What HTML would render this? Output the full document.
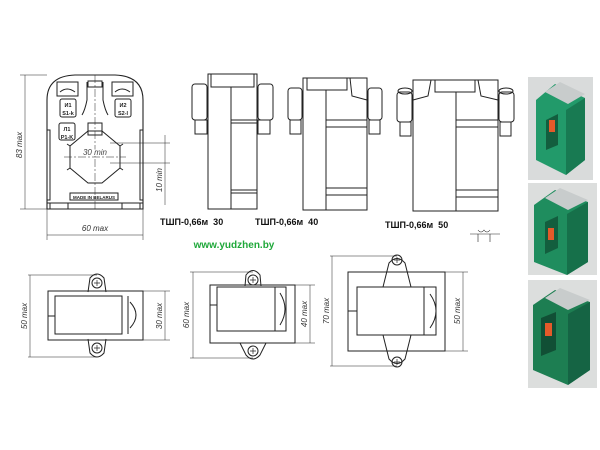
<!DOCTYPE html>
<html><head><meta charset="utf-8"><style>
html,body{margin:0;padding:0;background:#fff;width:600px;height:450px;overflow:hidden}
svg{display:block}
text{font-family:"Liberation Sans",sans-serif}
</style></head><body>
<svg width="600" height="450" viewBox="0 0 600 450" xmlns="http://www.w3.org/2000/svg">
<g fill="none" stroke="#222" stroke-width="1">
<!-- FRONT VIEW -->
<path d="M47 209 L47 100 Q47 76 75 75 L115 75 Q143 76 143 100 L143 209 Z" stroke-width="1.1"/>
<rect x="57" y="82" width="21" height="14"/><path d="M60 92 Q67 86 75 92"/>
<rect x="112" y="82" width="21" height="14"/><path d="M115 92 Q122 86 130 92"/>
<path d="M87 82 L87 100 Q85 110 82 115 M103 82 L103 100 Q105 110 108 115"/><rect x="88" y="81" width="14" height="6"/>
<rect x="60" y="99" width="16" height="18" rx="2"/>
<rect x="115" y="99" width="16" height="18" rx="2"/>
<rect x="59" y="123" width="16" height="17" rx="2"/>
<rect x="88" y="123" width="14" height="12"/>
<path d="M88 131 L102 131 L120 146 L120 168 L102 183 L88 183 L70 168 L70 146 Z"/>
<path d="M70 146 L67 144 M120 146 L123 144 M70 168 L67 170 M120 168 L123 170" />
<line x1="95" y1="75" x2="95" y2="209" stroke-dasharray="8 2 2 2" stroke-width="0.5"/>
<line x1="64" y1="157" x2="126" y2="157" stroke-dasharray="8 2 2 2" stroke-width="0.5"/>
<rect x="70" y="193" width="48" height="7"/>
<line x1="47" y1="203" x2="143" y2="203"/>
<rect x="50" y="203" width="18" height="6"/><rect x="122" y="203" width="18" height="6"/>
<path d="M47 130 L50 130 L50 200 L47 200 M143 130 L140 130 L140 200 L143 200"/>
<!-- dims -->
<path d="M20 75 L47 75 M20 209 L47 209 M25 75 L25 209" stroke-width="0.5"/>
<path d="M47 209 L47 240 M143 209 L143 240 M47 235 L143 235" stroke-width="0.5"/>
<path d="M110 143 L170 143 M110 163 L170 163 M165 135 L165 205" stroke-width="0.5"/>
</g>
<g font-size="8" font-style="italic" fill="#333">
<text transform="translate(22,145) rotate(-90)" text-anchor="middle">83 max</text>
<text x="95" y="231" text-anchor="middle">60 max</text>
<text x="95" y="155" text-anchor="middle" fill="#444" stroke="#fff" stroke-width="2" paint-order="stroke">30 min</text>
<text transform="translate(162,180) rotate(-90)" text-anchor="middle">10 min</text>
</g>
<g font-size="5.5" font-weight="bold" fill="#222" text-anchor="middle">
<text x="68" y="107">И1</text><text x="68" y="115">S1-k</text>
<text x="123" y="107">И2</text><text x="123" y="115">S2-l</text>
<text x="67" y="131">Л1</text><text x="67" y="139">P1-K</text>
<text x="94" y="199" font-size="4.5">MADE IN BELARUS</text>
</g>

<!-- SIDE VIEWS -->
<g fill="none" stroke="#222" stroke-width="1">
<rect x="208" y="74" width="49" height="135"/>
<rect x="211" y="74" width="43" height="13"/>
<line x1="231" y1="87" x2="231" y2="209"/>
<path d="M231 120 L257 120 M231 123 L257 123 M231 190 L257 190 M231 193 L257 193"/>
<rect x="192" y="84" width="15" height="36" rx="3"/><rect x="195" y="120" width="12" height="14"/>
<rect x="258" y="84" width="15" height="36" rx="3"/><rect x="258" y="120" width="12" height="14"/>
<rect x="303" y="78" width="64" height="132"/>
<rect x="307" y="78" width="40" height="12"/>
<line x1="326" y1="90" x2="326" y2="210"/>
<path d="M326 120 L367 120 M326 127 L367 127 M326 188 L367 188 M326 195 L367 195"/>
<path d="M350 78 L352 96 L367 100"/>
<rect x="288" y="88" width="14" height="32" rx="3"/><rect x="290" y="120" width="11" height="14"/>
<rect x="368" y="88" width="14" height="32" rx="3"/><rect x="369" y="120" width="11" height="14"/>
<rect x="413" y="80" width="85" height="131"/>
<rect x="435" y="80" width="40" height="12"/>
<line x1="456" y1="92" x2="456" y2="211"/>
<path d="M456 120 L498 120 M456 127 L498 127 M456 190 L498 190 M456 197 L498 197"/>
<path d="M478 80 L481 96 L498 100 M431 80 L428 96 L413 100"/>
<rect x="397" y="92" width="15" height="30" rx="3"/><rect x="400" y="122" width="11" height="14"/><ellipse cx="405" cy="91" rx="7" ry="3"/>
<rect x="499" y="92" width="15" height="30" rx="3"/><rect x="500" y="122" width="11" height="14"/><ellipse cx="506" cy="91" rx="7" ry="3"/>
<path d="M470 234 L500 234 M478 234 L478 242 M490 234 L490 242 M478 230 Q481 234 484 230 Q487 234 490 230" stroke-width="0.6"/>
</g>
<g font-size="9" font-weight="bold" fill="#111">
<text x="160" y="225">ТШП-0,66м&#160;&#160;30</text>
<text x="255" y="225">ТШП-0,66м&#160;&#160;40</text>
<text x="385" y="228">ТШП-0,66м&#160;&#160;50</text>
</g>
<text x="234" y="248" font-size="10" font-weight="bold" fill="#1fa83a" text-anchor="middle">www.yudzhen.by</text>

<!-- BOTTOM VIEWS -->
<g fill="none" stroke="#222" stroke-width="1">
<path d="M88 292 L90 278 Q97 270 104 278 L106 292 M88 339 L90 353 Q97 361 104 353 L106 339"/>
<circle cx="97" cy="283" r="5"/><circle cx="97" cy="348" r="5"/>
<path d="M94 283 L100 283 M97 280 L97 286 M94 348 L100 348 M97 345 L97 351" stroke-width="0.7"/>
<rect x="48" y="291" width="95" height="49"/>
<rect x="55" y="296" width="67" height="38"/>
<path d="M48 316 L55 316 M122 296 L122 334 M128 296 L128 334" />
<path d="M130 302 Q142 315 130 328"/>
<path d="M28 275 L97 275 M28 357 L97 357 M30 275 L30 357 M143 291 L170 291 M143 340 L170 340 M165 291 L165 340" stroke-width="0.5"/>
<path d="M245 286 L246 275 Q253 266 260 275 L261 286 M240 343 L246 355 Q253 363 260 355 L266 343"/>
<circle cx="253" cy="280" r="5"/><circle cx="253" cy="351" r="5"/>
<path d="M250 280 L256 280 M253 277 L253 283 M250 351 L256 351 M253 348 L253 354" stroke-width="0.7"/>
<rect x="210" y="285" width="85" height="58"/>
<rect x="217" y="287" width="69" height="44"/>
<path d="M210 305 L217 305 M275 287 L275 331"/>
<path d="M280 293 Q290 309 280 325"/>
<path d="M190 272 L253 272 M190 358 L253 358 M193 272 L193 358 M295 285 L315 285 M295 343 L315 343 M310 285 L310 343" stroke-width="0.5"/>
<path d="M383 287 L389 263 Q397 254 405 263 L411 287 M383 335 L389 359 Q397 368 405 359 L411 335"/>
<circle cx="397" cy="260" r="5"/><circle cx="397" cy="362" r="5"/>
<path d="M394 260 L400 260 M397 257 L397 263 M394 362 L400 362 M397 359 L397 365" stroke-width="0.7"/>
<rect x="348" y="272" width="97" height="79"/>
<rect x="357" y="287" width="79" height="48"/>
<path d="M348 311 L357 311 M424 287 L424 335"/>
<path d="M430 294 Q442 311 430 328"/>
<path d="M330 256 L397 256 M330 366 L397 366 M332 256 L332 366 M445 272 L468 272 M445 351 L468 351 M463 272 L463 351" stroke-width="0.5"/>
</g>
<g font-size="8" font-style="italic" fill="#333" text-anchor="middle">
<text transform="translate(27,316) rotate(-90)">50 max</text>
<text transform="translate(162,316) rotate(-90)">30 max</text>
<text transform="translate(189,315) rotate(-90)">60 max</text>
<text transform="translate(307,314) rotate(-90)">40 max</text>
<text transform="translate(329,311) rotate(-90)">70 max</text>
<text transform="translate(460,311) rotate(-90)">50 max</text>
</g>

<!-- PHOTOS -->
<rect x="528" y="77" width="65" height="103" fill="#d9dbdb"/>
<path d="M536 100 L555 84 L585 98 L585 160 L566 175 L536 160 Z" fill="#229a6a"/>
<path d="M566 110 L585 98 L585 160 L566 175 Z" fill="#187a52"/>
<path d="M545 92 L560 82 L585 94 L568 104 Z" fill="#c8cccc"/>
<path d="M546 120 L558 114 L558 145 L546 150 Z" fill="#135e3e"/>
<rect x="549" y="120" width="6" height="12" fill="#e45a2a"/>
<rect x="528" y="183" width="69" height="92" fill="#dcdedd"/>
<path d="M534 205 L555 190 L588 202 L588 262 L567 275 L534 262 Z" fill="#1f8d5e"/>
<path d="M567 214 L588 202 L588 262 L567 275 Z" fill="#16704a"/>
<path d="M545 198 L560 188 L588 200 L568 210 Z" fill="#c8cccc"/>
<path d="M545 222 L558 216 L558 248 L545 254 Z" fill="#135e3e"/>
<rect x="548" y="228" width="6" height="12" fill="#e45a2a"/>
<rect x="528" y="280" width="69" height="108" fill="#dcdedd"/>
<path d="M533 305 L555 290 L590 302 L590 370 L568 385 L533 370 Z" fill="#1d7e52"/>
<path d="M568 314 L590 302 L590 370 L568 385 Z" fill="#156444"/>
<path d="M545 298 L560 288 L590 300 L568 310 Z" fill="#c8cccc"/>
<path d="M541 318 L556 312 L556 350 L541 356 Z" fill="#114f35"/>
<rect x="545" y="323" width="7" height="13" fill="#e45a2a"/>
</svg>
</body></html>
